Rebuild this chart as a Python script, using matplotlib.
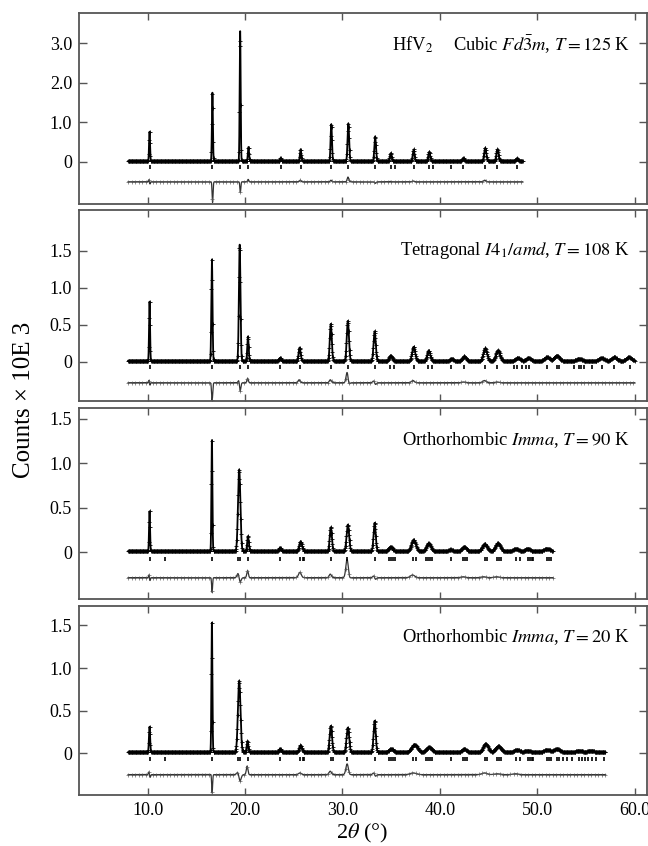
import numpy as np
import matplotlib
matplotlib.use('Agg')
import matplotlib.pyplot as plt

plt.rcParams['font.family'] = ['Liberation Serif', 'DejaVu Serif']
plt.rcParams['mathtext.fontset'] = 'stix'

# ---------------- data ----------------
x_ticks = [10, 20, 30, 40, 50, 60]
x_tick_labels = ['10.0', '20.0', '30.0', '40.0', '50.0', '60.0']

# Panel 1: cubic, 125 K
p1_range = (8.0, 48.5)
p1_pos = [10.2, 16.65, 19.5, 20.35, 23.65, 25.7, 28.85, 30.6, 33.35, 34.95, 37.3, 38.9, 42.4, 44.65, 45.9, 47.9]
p1_height = [0.75, 1.74, 3.3, 0.36, 0.08, 0.3, 0.94, 0.96, 0.63, 0.2, 0.3, 0.24, 0.08, 0.34, 0.3, 0.07]
p1_sigma = [0.05, 0.05, 0.05, 0.06, 0.07, 0.07, 0.07, 0.08, 0.08, 0.09, 0.09, 0.1, 0.1, 0.11, 0.11, 0.12]
p1_diff_up = [0.12, 0.05, 0.02, 0.06, 0.0, 0.04, 0.04, 0.12, 0.0, 0.01, 0.02, 0.0, 0.0, 0.04, 0.0, 0.0]
p1_diff_down = [0.12, 0.56, 0.28, 0.0, 0.0, 0.0, 0.0, 0.0, 0.04, 0.0, 0.0, 0.0, 0.0, 0.0, 0.0, 0.0]
p1_refl = [10.2, 16.65, 19.5, 20.35, 23.65, 25.7, 28.85, 30.6, 33.35, 34.95, 35.35, 37.3, 38.9, 39.3,
           41.1, 42.4, 44.65, 45.9, 47.9]

# Panel 2: tetragonal, 108 K
p2_range = (8.0, 60.0)
p2_pos = [10.2, 16.6, 19.45, 20.3, 23.6, 25.6, 28.8, 30.55, 33.3, 34.95, 37.3, 38.85, 41.2, 42.5, 44.65,
          45.95, 48.0, 49.1, 51.0, 52.0, 54.3, 56.6, 57.9, 59.4]
p2_height = [0.8, 1.37, 1.57, 0.33, 0.04, 0.18, 0.5, 0.54, 0.4, 0.07, 0.19, 0.14, 0.03, 0.06, 0.17,
             0.14, 0.04, 0.04, 0.05, 0.07, 0.03, 0.04, 0.05, 0.05]
p2_sigma = [0.05, 0.06, 0.08, 0.07, 0.1, 0.1, 0.1, 0.11, 0.11, 0.15, 0.15, 0.15, 0.15, 0.18, 0.18,
            0.2, 0.22, 0.22, 0.25, 0.25, 0.25, 0.25, 0.25, 0.25]
p2_diff_up = [0.07, 0.03, 0.1, 0.06, 0.0, 0.04, 0.04, 0.19, 0.05, 0.0, 0.03, 0.0, 0.0, 0.01, 0.03,
              0.01, 0.0, 0.0, 0.0, 0.0, 0.0, 0.0, 0.0, 0.0]
p2_diff_down = [0.07, 0.26, 0.17, 0.0, 0.0, 0.0, 0.0, 0.08, 0.05, 0.0, 0.0, 0.0, 0.0, 0.0, 0.0,
                0.0, 0.0, 0.0, 0.0, 0.0, 0.0, 0.0, 0.0, 0.0]
p2_refl = [10.2, 16.6, 19.45, 20.3, 23.6, 25.6, 28.8, 30.55, 33.3, 34.9, 35.3, 37.3, 38.8, 39.2, 41.1,
           42.5, 44.6, 45.9, 47.6, 47.9, 48.4, 48.8, 49.1, 51.0, 52.0, 52.2, 53.8, 54.3, 54.5, 54.8,
           55.6, 56.6, 57.9, 59.5]

# Panel 3: orthorhombic, 90 K
p3_range = (8.0, 51.6)
p3_pos = [10.2, 16.6, 19.4, 20.3, 23.6, 25.7, 28.8, 30.55, 33.3, 34.95, 37.3, 38.85, 41.1, 42.5, 44.6,
          45.95, 47.8, 49.0, 51.0]
p3_height = [0.45, 1.25, 0.92, 0.17, 0.04, 0.11, 0.27, 0.3, 0.32, 0.05, 0.13, 0.09, 0.02, 0.05, 0.08,
             0.09, 0.03, 0.03, 0.03]
p3_sigma = [0.05, 0.05, 0.12, 0.08, 0.12, 0.14, 0.11, 0.13, 0.11, 0.2, 0.22, 0.22, 0.2, 0.22, 0.25,
            0.25, 0.25, 0.25, 0.28]
p3_diff_up = [0.07, 0.02, 0.1, 0.08, 0.0, 0.06, 0.04, 0.24, 0.04, 0.0, 0.03, 0.0, 0.0, 0.01, 0.01,
              0.01, 0.0, 0.0, 0.0]
p3_diff_down = [0.07, 0.18, 0.1, 0.0, 0.0, 0.0, 0.0, 0.05, 0.04, 0.0, 0.0, 0.0, 0.0, 0.0, 0.0,
                0.0, 0.0, 0.0, 0.0]
p3_refl = [10.2, 11.8, 16.6, 19.3, 19.5, 20.3, 23.6, 25.6, 25.9, 26.1, 28.8, 30.5, 33.3, 34.8, 35.0,
           35.2, 35.4, 37.2, 37.5, 38.6, 38.8, 39.0, 39.2, 41.1, 42.4, 42.6, 42.8, 44.6, 44.8, 45.9,
           46.1, 46.3, 47.8, 48.2, 49.0, 49.2, 49.4, 49.6, 51.0, 51.2, 51.4]

# Panel 4: orthorhombic, 20 K
p4_range = (8.0, 57.0)
p4_pos = [10.2, 16.6, 19.4, 20.25, 23.6, 25.7, 28.8, 30.55, 33.3, 35.0, 37.4, 38.9, 42.5, 44.7, 46.0,
          47.9, 49.0, 51.0, 52.0, 54.3, 55.5]
p4_height = [0.3, 1.52, 0.84, 0.13, 0.04, 0.08, 0.31, 0.29, 0.37, 0.04, 0.09, 0.06, 0.04, 0.1, 0.07,
             0.03, 0.02, 0.03, 0.04, 0.02, 0.02]
p4_sigma = [0.06, 0.05, 0.13, 0.08, 0.12, 0.14, 0.12, 0.13, 0.11, 0.22, 0.3, 0.28, 0.22, 0.25, 0.28,
            0.28, 0.28, 0.3, 0.3, 0.3, 0.3]
p4_diff_up = [0.07, 0.05, 0.08, 0.1, 0.0, 0.02, 0.04, 0.14, 0.04, 0.0, 0.02, 0.0, 0.0, 0.02, 0.01,
              0.01, 0.0, 0.0, 0.0, 0.0, 0.0]
p4_diff_down = [0.07, 0.25, 0.12, 0.0, 0.0, 0.0, 0.0, 0.02, 0.04, 0.0, 0.0, 0.0, 0.0, 0.0, 0.0,
                0.0, 0.0, 0.0, 0.0, 0.0, 0.0]
p4_refl = [10.2, 11.8, 16.6, 19.3, 19.5, 20.3, 23.6, 25.6, 25.9, 26.1, 28.8, 29.0, 30.5, 33.3, 34.8,
           35.0, 35.2, 35.4, 37.2, 37.5, 38.6, 38.8, 39.0, 39.2, 41.1, 42.4, 42.6, 42.8, 44.6, 44.8,
           45.9, 46.1, 46.3, 47.8, 48.2, 49.0, 49.2, 49.4, 49.6, 51.0, 51.2, 51.4, 52.0, 52.2, 52.6,
           53.0, 53.6, 54.3, 54.6, 54.9, 55.2, 55.6, 56.0, 56.8]

p1_yticks, p1_ylabels = [0, 1, 2, 3], ['0', '1.0', '2.0', '3.0']
p234_yticks, p234_ylabels = [0, 0.5, 1.0, 1.5], ['0', '0.5', '1.0', '1.5']

panel_titles = [r'Cubic $Fd\bar{3}m$, $T = 125$ K',
                r'Tetragonal $I4_1/amd$, $T = 108$ K',
                r'Orthorhombic $Imma$, $T = 90$ K',
                r'Orthorhombic $Imma$, $T = 20$ K']

panels = [
    dict(rng=p1_range, pos=p1_pos, h=p1_height, s=p1_sigma, du=p1_diff_up, dd=p1_diff_down, refl=p1_refl,
         yt=p1_yticks, yl=p1_ylabels),
    dict(rng=p2_range, pos=p2_pos, h=p2_height, s=p2_sigma, du=p2_diff_up, dd=p2_diff_down, refl=p2_refl,
         yt=p234_yticks, yl=p234_ylabels),
    dict(rng=p3_range, pos=p3_pos, h=p3_height, s=p3_sigma, du=p3_diff_up, dd=p3_diff_down, refl=p3_refl,
         yt=p234_yticks, yl=p234_ylabels),
    dict(rng=p4_range, pos=p4_pos, h=p4_height, s=p4_sigma, du=p4_diff_up, dd=p4_diff_down, refl=p4_refl,
         yt=p234_yticks, yl=p234_ylabels),
]

# ---------------- layout (pixel based) ----------------
W, H = 648, 846
fig = plt.figure(figsize=(W / 100, H / 100), dpi=100)
left_px, right_px = 79, 647
pix = [(13, 204), (210, 401), (408, 599), (606, 795)]
ylims = [(-1.074, 3.774), (-0.531, 2.05), (-0.525, 1.623), (-0.489, 1.727)]
diff_base = [-0.51, -0.284, -0.285, -0.25]
refl_y = [-0.13, -0.076, -0.08, -0.07]
title_y = [0.832, 0.79, 0.832, 0.836]
xlim = (2.96, 61.25)
spine_col = '#555555'


def profile(x, pos, h, s):
    y = np.zeros_like(x)
    for p, a, w in zip(pos, h, s):
        y += a * np.exp(-0.5 * ((x - p) / w) ** 2)
    return y


def difference(x, pos, s, du, dd):
    y = np.zeros_like(x)
    for p, w, u, d in zip(pos, s, du, dd):
        y += u * np.exp(-0.5 * ((x - p + 0.5 * w) / w) ** 2)
        y -= d * np.exp(-0.5 * ((x - p - 0.3 * w) / w) ** 2)
    return y


for i, pn in enumerate(panels):
    top, bot = pix[i]
    ax = fig.add_axes([left_px / W, 1 - bot / H, (right_px - left_px) / W, (bot - top) / H])
    xf = np.arange(pn['rng'][0], pn['rng'][1] + 1e-9, 0.005)
    xo = np.arange(pn['rng'][0], pn['rng'][1] + 1e-9, 0.045)
    calc = profile(xf, pn['pos'], pn['h'], pn['s']) + 0.012
    obs = profile(xo, pn['pos'], pn['h'], pn['s']) + 0.012
    diff = difference(xf, pn['pos'], pn['s'], pn['du'], pn['dd'])
    diff_o = difference(xo, pn['pos'], pn['s'], pn['du'], pn['dd'])
    ax.plot(xf, calc, color='black', lw=1.3)
    ax.plot(xo, obs, ls='none', marker='+', ms=2.8, mew=0.6, color='black')
    ax.plot(xf, diff_base[i] + diff, color='#333333', lw=0.9)
    ax.plot(xo[::8], diff_base[i] + diff_o[::8], ls='none', marker='+', ms=2.4, mew=0.45, color='#555555')
    ax.plot(pn['refl'], [refl_y[i]] * len(pn['refl']), ls='none', marker='|', ms=3.5, mew=1.2, color='black')

    ax.set_xlim(*xlim)
    ax.set_ylim(*ylims[i])
    ax.set_xticks(x_ticks)
    ax.set_yticks(pn['yt'])
    ax.set_yticklabels(pn['yl'])
    if i == 3:
        ax.set_xticklabels(x_tick_labels)
    else:
        ax.set_xticklabels([])
    ax.tick_params(direction='in', top=True, right=True, length=5, width=1.0, color=spine_col,
                   labelsize=13, pad=5)
    ax.tick_params(axis='y', length=6)
    for sp in ax.spines.values():
        sp.set_color(spine_col)
        sp.set_linewidth(1.3)
    ax.text(0.97, title_y[i], panel_titles[i], transform=ax.transAxes, ha='right', va='center', fontsize=13.3)
    if i == 0:
        ax.text(0.588, 0.832, r'HfV$_2$', transform=ax.transAxes, ha='center', va='center', fontsize=13.3)

fig.text(24 / W, 1 - 400 / H, 'Counts × 10E 3', rotation=90, ha='center', va='center', fontsize=18)
fig.text(362 / W, 1 - 833 / H, r'2$\theta$ (°)', ha='center', va='center', fontsize=16)

fig.savefig('out.png', dpi=100)
